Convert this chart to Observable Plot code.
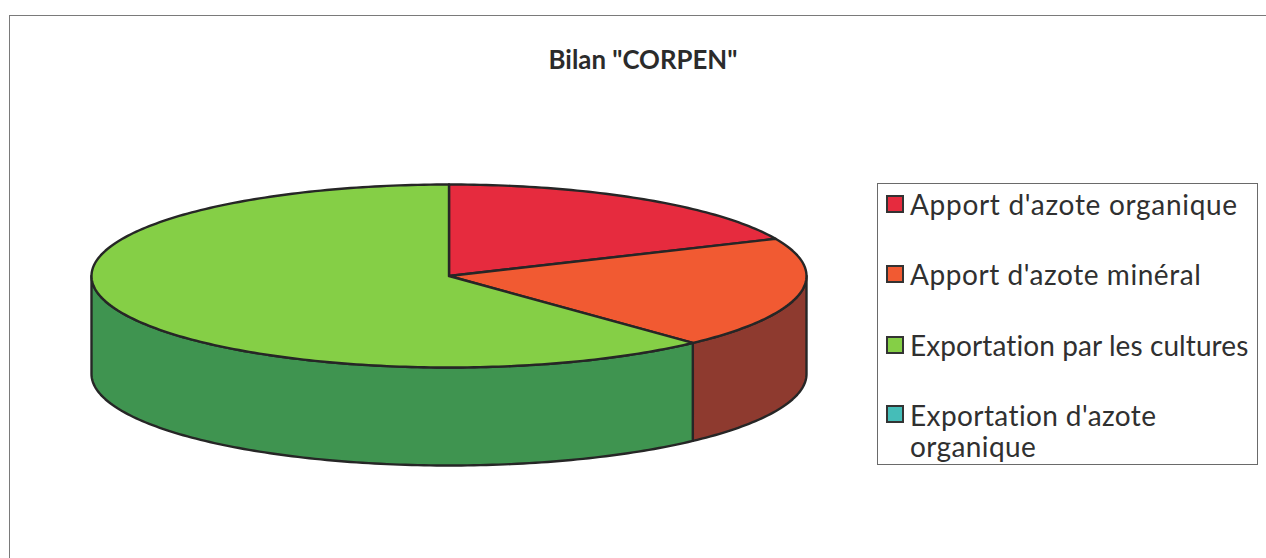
<!DOCTYPE html>
<html lang="fr">
<head>
<meta charset="utf-8">
<script src="https://cdn.jsdelivr.net/npm/d3@7"></script>
<script src="https://cdn.jsdelivr.net/npm/@observablehq/plot@0.6"></script>
<style>
  html, body { margin: 0; padding: 0; background: #fff; overflow: hidden; }
  #page { position: relative; width: 1266px; height: 558px; overflow: hidden; }
  #frame { position: absolute; left: 9px; top: 15px; width: 1300px; height: 600px; border: 1px solid #7a7a7a; box-sizing: border-box; }
  #chart { position: absolute; left: 0; top: 0; }
  #chart svg { display: block; background: transparent; }
  #title { position: absolute; left: 498px; width: 290px; top: 44px; text-align: center; font: 700 25.8px/30px "Lato", sans-serif; color: #2b2b2b; }
  #legend { position: absolute; left: 877px; top: 183px; width: 381px; height: 282px; box-sizing: border-box; border: 1px solid #6a6a6a; background: #fff; font-family: "Lato", sans-serif; font-size: 28px; line-height: 31px; color: #303030; }
  .item { position: absolute; left: 32px; white-space: pre; }
  .item0 { letter-spacing: 0.7px; }
  .item1 { letter-spacing: 0.56px; }
  .item2 { letter-spacing: 0.09px; }
  .item3 { letter-spacing: 0.4px; }
  .swatch { position: absolute; left: 8px; width: 18px; height: 18px; box-sizing: border-box; border: 2.5px solid #333; }
</style>
</head>
<body>
<div id="page">
  <div id="frame"></div>
  <div id="chart"></div>
  <div id="title"></div>
  <div id="legend"></div>
</div>
<script>
const chartTitle = 'Bilan "CORPEN"';
const categories = ["Apport d'azote organique", "Apport d'azote minéral", "Exportation par les cultures", "Exportation d'azote organique"];
const values = [66, 71, 223, 0];
const topColors = ["#E62B3E", "#F15A32", "#85CF46", "#45BDB8"];
const sideColors = ["#8A1E28", "#8E3A2F", "#3F9450", "#2A7572"];
const legendLabels = ["Apport d'azote organique", "Apport d'azote minéral", "Exportation par les cultures", "Exportation d'azote\norganique"];

const depth = 98 / 91.5;          // thickness of the disc, in units of the vertical radius
const pie = d3.pie().sort(null)(values);
const rad = d => d * Math.PI / 180;
const arcPoint = (a, drop = 0) => ({x: Math.sin(a), y: Math.cos(a) - drop});

function arcPoints(a0, a1, drop = 0) {
  const n = Math.max(1, Math.ceil((a1 - a0) / rad(1)));
  return d3.range(n + 1).map(i => arcPoint(a0 + (a1 - a0) * i / n, drop));
}

const marks = [];
// Side walls: only the front half of the disc can be seen
pie.forEach((s, i) => {
  const a0 = Math.max(s.startAngle, Math.PI / 2);
  const a1 = Math.min(s.endAngle, Math.PI * 1.5);
  if (s.value > 0 && a1 > a0) {
    const wall = [...arcPoints(a0, a1), ...arcPoints(a0, a1, depth).reverse()];
    wall.push(wall[0]);
    marks.push(Plot.line(wall, {x: "x", y: "y", fill: sideColors[i], stroke: "#262626", strokeWidth: 2.4, strokeLinejoin: "round"}));
  }
});
// Top face
pie.forEach((s, i) => {
  if (s.value > 0) {
    const face = [{x: 0, y: 0}, ...arcPoints(s.startAngle, s.endAngle), {x: 0, y: 0}];
    marks.push(Plot.line(face, {x: "x", y: "y", fill: topColors[i], stroke: "#262626", strokeWidth: 2.4, strokeLinejoin: "round"}));
  }
});

const plot = Plot.plot({
  width: 1266,
  height: 558,
  margin: 0,
  x: {domain: [-1, 1], range: [91, 806], axis: null},
  y: {domain: [-1, 1], range: [367, 184], axis: null},
  marks
});
document.getElementById("chart").append(plot);

document.getElementById("title").textContent = chartTitle;
const legend = document.getElementById("legend");
const swatchTops = [11, 81, 152, 221];
const textTops = [5, 75, 146, 216];
legendLabels.forEach((label, i) => {
  const sw = document.createElement("div");
  sw.className = "swatch";
  sw.style.top = swatchTops[i] + "px";
  sw.style.background = topColors[i];
  legend.append(sw);
  const t = document.createElement("div");
  t.className = "item item" + i;
  t.style.top = textTops[i] + "px";
  t.textContent = label;
  legend.append(t);
});
</script>
</body>
</html>
